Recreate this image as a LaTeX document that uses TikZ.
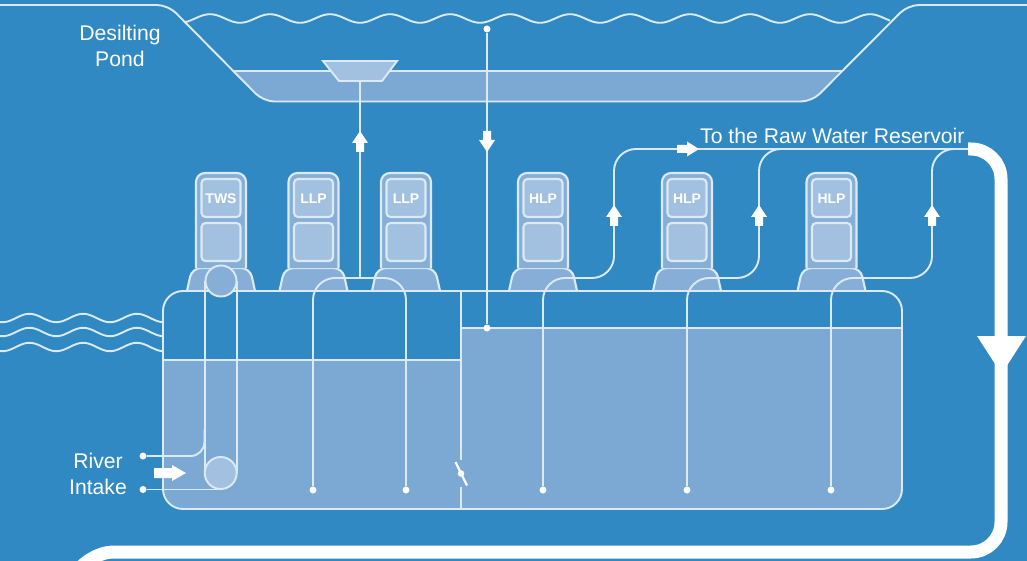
\documentclass[tikz,border=0pt]{standalone}
\usepackage{fontspec}
\setmainfont{Liberation Sans}
\definecolor{bgblue}{HTML}{3189C3}
\definecolor{water}{HTML}{7BA9D3}
\definecolor{pumpbody}{HTML}{86AED6}
\definecolor{pumpbox}{HTML}{A2C0E0}
\definecolor{lineblue}{HTML}{DCEAF5}
\tikzset{
  thin line/.style={draw=lineblue,line width=1.9pt},
  pump line/.style={draw=lineblue,line width=2.1pt},
  pipe line/.style={draw=lineblue,line width=1.9pt,rounded corners=22pt},
  big pipe/.style={draw=white,line width=13pt},
  tip/.style={fill=white,draw=none},
  dotend/.style={circle,fill=white,inner sep=0pt,minimum size=7pt},
  label text/.style={text=white,font=\fontsize{21.2}{25}\selectfont,align=center,inner sep=0pt},
  pump text/.style={text=white,font=\fontsize{14}{16}\selectfont\bfseries,inner sep=0pt}
}
\newcommand{\pumpunit}[3]{% centre x, label, name
  \draw[pump line,fill=pumpbody,rounded corners=9pt] (#1-34,291) -- (#1-29,268) -- (#1+29,268) -- (#1+34,291);
  \draw[pump line,fill=pumpbody,rounded corners=9pt] (#1-25,268) -- (#1-25,173) -- (#1+25,173) -- (#1+25,268);
  \draw[pump line,fill=pumpbox,rounded corners=4pt] (#1-19.5,179) rectangle (#1+19.5,217);
  \draw[pump line,fill=pumpbox,rounded corners=4pt] (#1-19.5,223) rectangle (#1+19.5,261);
  \node[pump text] (#3) at (#1,199) {#2};
}
\newcommand{\uparrowmark}[2]{% x, y of tip
  \fill[tip] (#1,#2) -- (#1+8,#2+12) -- (#1+4,#2+12) -- (#1+4,#2+21) -- (#1-4,#2+21) -- (#1-4,#2+12) -- (#1-8,#2+12) -- cycle;
}
\begin{document}
\begin{tikzpicture}[x=1pt,y=-1pt]
\useasboundingbox (0,0) rectangle (1027,561);
\fill[bgblue] (0,0) rectangle (1027,561);
% desilting pond
\fill[water] (233,71) [rounded corners=11pt] -- (263.5,101.5) -- (812,101.5) [sharp corners] -- (842,71) -- cycle;
\draw[thin line] (233,71) -- (842,71);
\draw[thin line,rounded corners=11pt] (0,5) -- (168,5) -- (263.5,101.5) -- (812,101.5) -- (908,5) -- (1027,5);
\draw[thin line] plot[domain=185:890,samples=240,smooth] (\x,{18.5-4.3*cos(6*(\x-210))});
\draw[thin line,fill=pumpbox] (323,61) -- (397,61) -- (382,81) -- (339,81) -- cycle;
% river
\foreach \yy in {318,332,347}{
  \draw[thin line] plot[domain=0:163,samples=70,smooth] (\x,{\yy+4.2*cos(6.7*(\x-110))});
}
% pumps
\pumpunit{221}{TWS}{tws}
\pumpunit{313.5}{LLP}{llpa}
\pumpunit{406}{LLP}{llpb}
\pumpunit{543}{HLP}{hlpa}
\pumpunit{687}{HLP}{hlpb}
\pumpunit{831.5}{HLP}{hlpc}
% tank
\begin{scope}
\clip[rounded corners=20pt] (163,291) rectangle (902,509);
\fill[water] (163,360) rectangle (461,509);
\fill[water] (461,328) rectangle (902,509);
\fill[bgblue] (163,291) rectangle (461,360);
\fill[bgblue] (461,291) rectangle (902,328);
\end{scope}
\draw[thin line] (163,360) -- (461,360);
\draw[thin line] (461,328) -- (902,328);
\draw[thin line,rounded corners=20pt] (163,291) rectangle (902,509);
% divider and gate
\draw[thin line] (461,291) -- (461,460);
\draw[thin line] (461,487) -- (461,509);
\draw[draw=white,line width=2.2pt] (455.5,462) -- (467,485.5);
\node[dotend,minimum size=6.5pt] (gate) at (461,473.5) {};
% pipes to pond
\node[dotend] (dla) at (313,490) {};
\node[dotend] (dlb) at (406,490) {};
\coordinate (fun) at (360,81);
\coordinate (jn) at (360,278);
\draw[thin line] (fun) -- (jn);
\draw[pipe line] (dla) -- (313,278) -- (406,278) -- (dlb);
\uparrowmark{360}{131}
% return from pond
\node[dotend] (pt) at (487,29) {};
\node[dotend] (pb) at (487,328) {};
\draw[thin line] (pt) -- (pb);
\fill[tip] (487,152) -- (479,140) -- (483,140) -- (483,131) -- (491,131) -- (491,140) -- (495,140) -- cycle;
% HLP pipes
\node[dotend] (dha) at (543,490) {};
\node[dotend] (dhb) at (687,490) {};
\node[dotend] (dhc) at (831,490) {};
\coordinate (hdr) at (972,149);
\draw[pipe line] (dha) -- (543,278) -- (614,278) -- (614,149) -- (hdr);
\draw[pipe line] (dhb) -- (687,278) -- (759,278) -- (759,149) -- (hdr);
\draw[pipe line] (dhc) -- (831,278) -- (932,278) -- (932,149) -- (hdr);
\uparrowmark{614}{205}
\uparrowmark{759}{205}
\uparrowmark{932}{205}
\fill[tip] (699,149) -- (687,141.5) -- (687,145) -- (677,145) -- (677,153) -- (687,153) -- (687,156.5) -- cycle;
% TWS tubes
\draw[thin line] (205,281) -- (205,473);
\draw[thin line] (236.7,281) -- (236.7,473);
\draw[thin line,fill=pumpbody] (221,281) circle (15.5);
\draw[thin line,fill=pumpbox] (220.7,473) circle (16);
\node[dotend] (ia) at (143,456) {};
\node[dotend] (ib) at (143,489.5) {};
\draw[thin line,rounded corners=14pt] (ia) -- (204.5,456) -- (204.5,430);
\draw[thin line] (ib) -- (220.7,489.5);
\fill[tip] (186,473) -- (172,465) -- (172,468) -- (154,468) -- (154,478) -- (172,478) -- (172,481) -- cycle;
% main discharge
\draw[big pipe,rounded corners=30pt] (968,149) -- (1001,149) -- (1001,552) -- (84,552) -- (78,566);
\fill[tip] (977,336) -- (1026,336) -- (1001.5,374) -- cycle;
% labels
\node[label text] (pond) at (120,45.5) {Desilting\\[1pt]Pond};
\node[label text] (river) at (98,473.5) {River\\[1pt]Intake};
\node[label text,anchor=base west] (res) at (700,144) {To the Raw Water Reservoir};
\end{tikzpicture}
\end{document}
